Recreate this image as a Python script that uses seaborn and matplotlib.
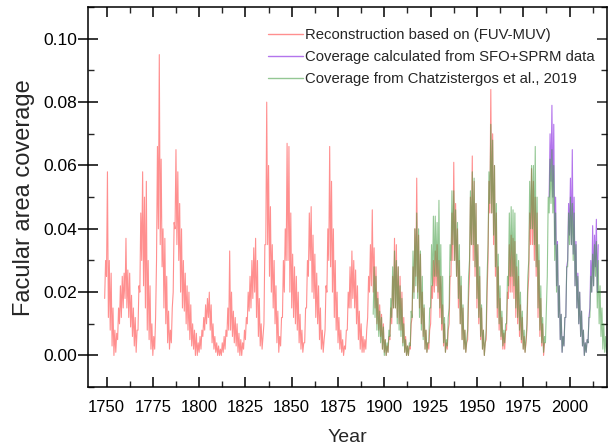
import numpy as np
import pandas as pd
import matplotlib
matplotlib.use("Agg")
import matplotlib.pyplot as plt
from matplotlib.ticker import MultipleLocator
import seaborn as sns

# ---------------- data ----------------
# annual low / high envelope of each noisy series
red_years = list(range(1749, 1987))
red_lo = [0.018, 0.025, 0.012, 0.008, 0.003, 0.000, 0.001, 0.005, 0.010, 0.012,
          0.015, 0.018, 0.015, 0.012, 0.009, 0.006, 0.003, 0.001, 0.008, 0.020,
          0.030, 0.022, 0.015, 0.008, 0.005, 0.002, 0.000, 0.002, 0.030, 0.040,
          0.035, 0.028, 0.015, 0.010, 0.004, 0.002, 0.004, 0.020, 0.040, 0.035,
          0.030, 0.020, 0.015, 0.014, 0.010, 0.008, 0.005, 0.003, 0.002, 0.000,
          0.000, 0.001, 0.002, 0.006, 0.008, 0.010, 0.012, 0.008, 0.004, 0.002,
          0.001, 0.000, 0.000, 0.000, 0.001, 0.002, 0.006, 0.008, 0.008, 0.006,
          0.004, 0.003, 0.001, 0.000, 0.000, 0.002, 0.005, 0.010, 0.014, 0.015,
          0.018, 0.020, 0.012, 0.006, 0.003, 0.002, 0.010, 0.035, 0.035, 0.025,
          0.020, 0.015, 0.010, 0.004, 0.001, 0.003, 0.012, 0.020, 0.030, 0.030,
          0.020, 0.015, 0.012, 0.010, 0.008, 0.004, 0.002, 0.001, 0.004, 0.015,
          0.025, 0.030, 0.020, 0.018, 0.012, 0.010, 0.005, 0.002, 0.001, 0.008,
          0.020, 0.030, 0.028, 0.020, 0.012, 0.008, 0.004, 0.002, 0.001, 0.000,
          0.002, 0.008, 0.015, 0.015, 0.018, 0.015, 0.010, 0.005, 0.002, 0.001,
          0.001, 0.002, 0.012, 0.020, 0.022, 0.020, 0.015, 0.010, 0.008, 0.006,
          0.002, 0.001, 0.000, 0.001, 0.005, 0.010, 0.015, 0.015, 0.012, 0.010,
          0.008, 0.004, 0.001, 0.000, 0.000, 0.002, 0.012, 0.020, 0.025, 0.020,
          0.015, 0.010, 0.006, 0.002, 0.001, 0.002, 0.010, 0.018, 0.020, 0.022,
          0.018, 0.012, 0.008, 0.003, 0.001, 0.002, 0.010, 0.025, 0.030, 0.030,
          0.025, 0.015, 0.010, 0.005, 0.002, 0.001, 0.005, 0.025, 0.035, 0.030,
          0.025, 0.015, 0.010, 0.005, 0.002, 0.000, 0.005, 0.030, 0.045, 0.045,
          0.035, 0.025, 0.012, 0.008, 0.005, 0.002, 0.002, 0.008, 0.018, 0.020,
          0.020, 0.018, 0.012, 0.010, 0.006, 0.004, 0.002, 0.001, 0.008, 0.025,
          0.035, 0.035, 0.030, 0.025, 0.012, 0.006, 0.003, 0.000]
red_hi = [0.030, 0.058, 0.030, 0.026, 0.015, 0.008, 0.007, 0.015, 0.022, 0.025,
          0.026, 0.037, 0.027, 0.026, 0.019, 0.015, 0.012, 0.008, 0.022, 0.045,
          0.058, 0.050, 0.055, 0.030, 0.022, 0.010, 0.006, 0.012, 0.066, 0.095,
          0.062, 0.040, 0.037, 0.025, 0.014, 0.008, 0.015, 0.042, 0.065, 0.058,
          0.048, 0.040, 0.030, 0.026, 0.022, 0.020, 0.016, 0.010, 0.008, 0.007,
          0.004, 0.006, 0.008, 0.012, 0.016, 0.018, 0.020, 0.016, 0.010, 0.006,
          0.004, 0.003, 0.002, 0.004, 0.006, 0.008, 0.015, 0.033, 0.020, 0.014,
          0.012, 0.010, 0.007, 0.005, 0.004, 0.008, 0.012, 0.020, 0.025, 0.030,
          0.034, 0.037, 0.030, 0.018, 0.010, 0.006, 0.035, 0.080, 0.060, 0.047,
          0.035, 0.030, 0.022, 0.014, 0.006, 0.012, 0.030, 0.040, 0.067, 0.066,
          0.045, 0.032, 0.028, 0.025, 0.020, 0.013, 0.008, 0.004, 0.015, 0.030,
          0.045, 0.047, 0.038, 0.032, 0.026, 0.022, 0.015, 0.008, 0.005, 0.022,
          0.040, 0.066, 0.055, 0.040, 0.030, 0.020, 0.012, 0.008, 0.005, 0.003,
          0.008, 0.020, 0.028, 0.033, 0.030, 0.027, 0.022, 0.014, 0.010, 0.006,
          0.005, 0.008, 0.025, 0.035, 0.046, 0.034, 0.028, 0.020, 0.016, 0.013,
          0.010, 0.005, 0.003, 0.006, 0.015, 0.025, 0.037, 0.035, 0.028, 0.025,
          0.020, 0.012, 0.006, 0.003, 0.003, 0.010, 0.028, 0.040, 0.056, 0.038,
          0.032, 0.020, 0.015, 0.008, 0.004, 0.008, 0.022, 0.030, 0.033, 0.035,
          0.030, 0.025, 0.016, 0.010, 0.004, 0.008, 0.025, 0.045, 0.061, 0.048,
          0.040, 0.030, 0.022, 0.015, 0.008, 0.004, 0.018, 0.050, 0.063, 0.055,
          0.048, 0.035, 0.025, 0.015, 0.008, 0.004, 0.020, 0.055, 0.084, 0.070,
          0.060, 0.045, 0.028, 0.018, 0.012, 0.007, 0.008, 0.020, 0.035, 0.038,
          0.037, 0.036, 0.028, 0.025, 0.016, 0.012, 0.006, 0.004, 0.020, 0.045,
          0.059, 0.055, 0.050, 0.045, 0.030, 0.018, 0.010, 0.004]

green_years = list(range(1894, 2021))
green_lo = [0.013, 0.012, 0.008, 0.006, 0.004, 0.002, 0.000, 0.000, 0.001, 0.006,
            0.012, 0.015, 0.015, 0.010, 0.008, 0.006, 0.003, 0.001, 0.000, 0.000,
            0.003, 0.012, 0.018, 0.022, 0.018, 0.012, 0.008, 0.005, 0.002, 0.001,
            0.004, 0.015, 0.022, 0.025, 0.025, 0.020, 0.015, 0.010, 0.004, 0.001,
            0.003, 0.015, 0.030, 0.035, 0.030, 0.025, 0.018, 0.010, 0.005, 0.002,
            0.001, 0.008, 0.030, 0.035, 0.035, 0.028, 0.018, 0.012, 0.006, 0.002,
            0.000, 0.008, 0.035, 0.048, 0.045, 0.038, 0.028, 0.015, 0.010, 0.006,
            0.003, 0.004, 0.010, 0.022, 0.025, 0.025, 0.022, 0.015, 0.012, 0.008,
            0.005, 0.002, 0.001, 0.010, 0.030, 0.040, 0.040, 0.035, 0.028, 0.015,
            0.008, 0.004, 0.001, 0.004, 0.025, 0.045, 0.048, 0.045, 0.030, 0.020,
            0.012, 0.005, 0.001, 0.003, 0.012, 0.028, 0.035, 0.035, 0.030, 0.022,
            0.015, 0.010, 0.006, 0.003, 0.000, 0.001, 0.004, 0.012, 0.020, 0.022,
            0.025, 0.015, 0.010, 0.006, 0.002, 0.001, 0.001]
green_hi = [0.028, 0.025, 0.018, 0.014, 0.012, 0.009, 0.005, 0.004, 0.008, 0.018,
            0.028, 0.033, 0.030, 0.028, 0.022, 0.018, 0.010, 0.005, 0.003, 0.004,
            0.014, 0.033, 0.040, 0.045, 0.040, 0.033, 0.025, 0.016, 0.008, 0.004,
            0.015, 0.035, 0.044, 0.044, 0.042, 0.049, 0.035, 0.025, 0.012, 0.005,
            0.012, 0.035, 0.052, 0.052, 0.046, 0.042, 0.035, 0.025, 0.016, 0.008,
            0.005, 0.025, 0.052, 0.058, 0.056, 0.048, 0.035, 0.028, 0.016, 0.008,
            0.004, 0.025, 0.058, 0.073, 0.068, 0.060, 0.048, 0.032, 0.022, 0.014,
            0.008, 0.010, 0.025, 0.045, 0.047, 0.046, 0.045, 0.032, 0.030, 0.020,
            0.014, 0.008, 0.005, 0.025, 0.055, 0.060, 0.060, 0.066, 0.050, 0.035,
            0.022, 0.012, 0.006, 0.014, 0.050, 0.062, 0.065, 0.060, 0.045, 0.035,
            0.022, 0.013, 0.006, 0.012, 0.028, 0.045, 0.050, 0.048, 0.045, 0.035,
            0.025, 0.020, 0.014, 0.008, 0.004, 0.005, 0.012, 0.025, 0.032, 0.035,
            0.036, 0.030, 0.022, 0.015, 0.010, 0.006, 0.004]

purple_years = list(range(1989, 2016))
purple_lo = [0.050, 0.055, 0.050, 0.035, 0.022, 0.012, 0.005, 0.001, 0.003, 0.012,
             0.030, 0.038, 0.035, 0.032, 0.022, 0.015, 0.010, 0.006, 0.003, 0.000,
             0.001, 0.004, 0.015, 0.020, 0.022, 0.028, 0.020]
purple_hi = [0.070, 0.079, 0.073, 0.050, 0.036, 0.022, 0.013, 0.006, 0.012, 0.028,
             0.048, 0.056, 0.065, 0.050, 0.036, 0.026, 0.020, 0.014, 0.008, 0.004,
             0.005, 0.012, 0.030, 0.041, 0.038, 0.043, 0.035]

labels = ["Reconstruction based on (FUV-MUV)",
          "Coverage calculated from SFO+SPRM data",
          "Coverage from Chatzistergos et al., 2019"]
x_ticks = [1750, 1775, 1800, 1825, 1850, 1875, 1900, 1925, 1950, 1975, 2000]
y_ticks = [0.00, 0.02, 0.04, 0.06, 0.08, 0.10]


def envelope_frame(years, lo, hi):
    # alternate low (start of year) and high (mid-year) samples
    t, v = [], []
    for y, a, b in zip(years, lo, hi):
        t += [y, y + 0.5]
        v += [a, b]
    return pd.DataFrame({"Year": t, "value": v})


# ---------------- figure ----------------
sns.set_theme(style="white")
plt.rcParams["font.family"] = ["Liberation Sans", "DejaVu Sans"]

fig = plt.figure(figsize=(6.09, 4.45), dpi=100)
ax = fig.add_axes([0.1445, 0.130, 0.853, 0.854])

series = [
    (red_years, red_lo, red_hi, "#ff4545", 0.6, labels[0]),
    (purple_years, purple_lo, purple_hi, "#8a2be2", 0.65, labels[1]),
    (green_years, green_lo, green_hi, "#3c9a3c", 0.55, labels[2]),
]
for yrs, lo, hi, col, al, lab in series:
    df = envelope_frame(yrs, lo, hi)
    sns.lineplot(data=df, x="Year", y="value", ax=ax, color=col, lw=0.8,
                 alpha=al, estimator=None, sort=False, label=lab)

ax.set_xlim(1740, 2020.5)
ax.set_ylim(-0.01, 0.11)
ax.set_xticks(x_ticks)
ax.set_yticks(y_ticks)
ax.set_yticklabels([f"{v:.2f}" for v in y_ticks])
ax.xaxis.set_minor_locator(MultipleLocator(12.5))
ax.yaxis.set_minor_locator(MultipleLocator(0.01))

ax.tick_params(axis="x", which="major", direction="in", length=7, width=1.1,
               top=True, bottom=True, labelsize=12, pad=9, colors="black")
ax.tick_params(axis="x", which="minor", direction="in", length=4, width=1.0,
               top=True, bottom=True)
ax.tick_params(axis="y", which="major", direction="inout", length=14, width=1.1,
               left=True, right=False, labelsize=12.5, pad=1, colors="black")
ax.tick_params(axis="y", which="minor", direction="in", length=4, width=1.0,
               left=True, right=True)
# right side major ticks (inward)
ax2 = ax.secondary_yaxis("right")
ax2.set_yticks(y_ticks)
ax2.set_yticklabels([])
ax2.tick_params(direction="in", length=7, width=1.1)
ax2.spines["right"].set_visible(False)

for s in ax.spines.values():
    s.set_visible(True)
    s.set_color("black")
    s.set_linewidth(1.1)

ax.set_xlabel("Year", fontsize=14, labelpad=10)
ax.set_ylabel("Facular area coverage", fontsize=17, labelpad=6)

leg = ax.legend(loc="upper right", bbox_to_anchor=(0.995, 0.972), frameon=False,
                fontsize=10.75, handlelength=2.35, handletextpad=0.13,
                labelspacing=0.52, borderaxespad=0.3)
for h in leg.get_lines():
    h.set_linewidth(1.0)

fig.savefig("out.png", dpi=100)
